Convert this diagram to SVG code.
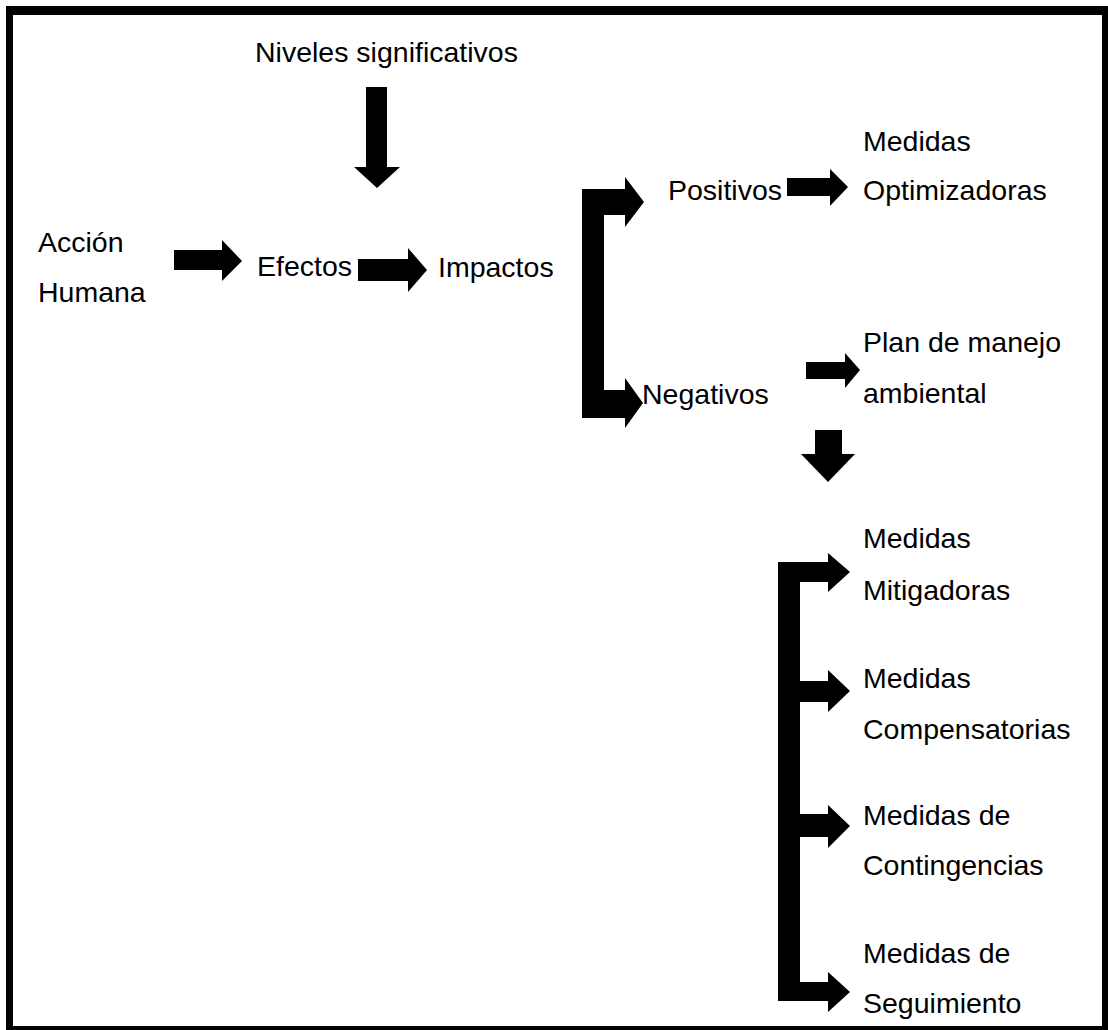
<svg xmlns="http://www.w3.org/2000/svg" width="1108" height="1030" viewBox="0 0 1108 1030">
<style>
  text { font-family: "Liberation Sans", Arial, sans-serif; font-size: 28.5px; fill: #000; }
  .arrow { fill: #000; stroke: none; }
</style>
<rect x="0" y="0" width="1108" height="1030" fill="#fff"/>
<path id="frame" fill="#000" fill-rule="evenodd" d="M6,6 H1108 V1030 H6 Z M13,15 V1026 H1102 V15 Z"/>

<g id="n-niveles"><text x="255" y="62">Niveles significativos</text></g>
<g id="n-accion"><text x="38" y="252">Acción</text><text x="38" y="302">Humana</text></g>
<g id="n-efectos"><text x="257" y="276">Efectos</text></g>
<g id="n-impactos"><text x="438" y="277">Impactos</text></g>
<g id="n-positivos"><text x="668" y="200">Positivos</text></g>
<g id="n-optimizadoras"><text x="863" y="151">Medidas</text><text x="863" y="200">Optimizadoras</text></g>
<g id="n-negativos"><text x="642" y="404">Negativos</text></g>
<g id="n-plan"><text x="863" y="352">Plan de manejo</text><text x="863" y="403">ambiental</text></g>
<g id="n-mitigadoras"><text x="863" y="548">Medidas</text><text x="863" y="600">Mitigadoras</text></g>
<g id="n-compensatorias"><text x="863" y="688">Medidas</text><text x="863" y="739">Compensatorias</text></g>
<g id="n-contingencias"><text x="863" y="825">Medidas de</text><text x="863" y="875">Contingencias</text></g>
<g id="n-seguimiento"><text x="863" y="963">Medidas de</text><text x="863" y="1013">Seguimiento</text></g>

<g id="connectors">
  <!-- Niveles -> Efectos (down) -->
  <polygon class="arrow" points="366,87 387,87 387,167 400,167 377,188 354,167 366,167"/>
  <!-- Accion -> Efectos -->
  <polygon class="arrow" points="174,250 222,250 222,240 242,261 222,281 222,270 174,270"/>
  <!-- Efectos -> Impactos -->
  <polygon class="arrow" points="358,259 408,259 408,248 427,270 408,292 408,281 358,281"/>
  <!-- Impactos bracket -> Positivos / Negativos -->
  <polygon class="arrow" points="582,189 625,189 625,177 644,202 625,227 625,215 604,215 604,390 625,390 625,378 643,403 625,428 625,418 582,418"/>
  <!-- Positivos -> Optimizadoras -->
  <polygon class="arrow" points="787,178 830,178 830,169 848,187 830,206 830,196 787,196"/>
  <!-- Negativos -> Plan -->
  <polygon class="arrow" points="806,362 845,362 845,353 860,370 845,388 845,379 806,379"/>
  <!-- Plan -> measures (down) -->
  <polygon class="arrow" points="815,430 842,430 842,454 855,454 828,482 801,454 815,454"/>
  <!-- measures bracket -->
  <polygon class="arrow" points="778,562 828,562 828,553 850,572 828,592 828,582 800,582 800,681 828,681 828,670 850,691 828,712 828,702 800,702 800,814 828,814 828,805 850,826 828,848 828,837 800,837 800,982 828,982 828,972 850,992 828,1012 828,1001 778,1001"/>
</g>
</svg>
